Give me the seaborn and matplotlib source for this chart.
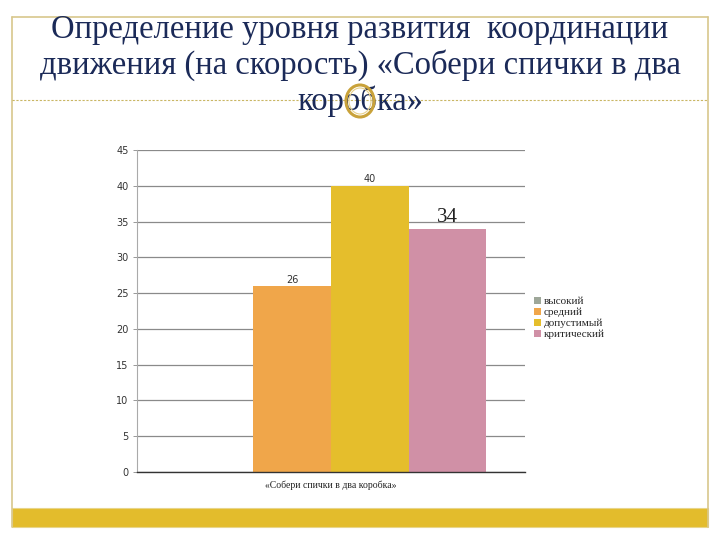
import matplotlib
matplotlib.use("Agg")
import matplotlib.pyplot as plt
import seaborn as sns
import pandas as pd
from matplotlib.patches import Rectangle, Ellipse, Patch

# ---- data ----
categories = ["«Собери спички в два коробка»"]
levels = ["высокий", "средний", "допустимый", "критический"]
values = [0, 26, 40, 34]
colors = ["#9ea799", "#f0a64a", "#e5be2c", "#d090a6"]
yticks = [0, 5, 10, 15, 20, 25, 30, 35, 40, 45]
title = "Определение уровня развития  координации\nдвижения (на скорость) «Собери спички в два\nкоробка»"

df = pd.DataFrame({"cat": categories * len(levels), "level": levels, "val": values})

sns.set_theme(style="white")
plt.rcParams['font.family'] = ['DejaVu Sans']

W, H = 720, 540
fig = plt.figure(figsize=(7.2, 5.4), dpi=100)
fig.patch.set_facecolor("white")

# slide overlay
bg = fig.add_axes([0, 0, 1, 1], zorder=0)
bg.set_xlim(0, W); bg.set_ylim(H, 0); bg.axis("off")
bc = "#d8c78c"
bg.plot([12, 12], [17, 527], color=bc, lw=1.2)
bg.plot([708, 708], [17, 527], color=bc, lw=1.2)
bg.plot([12, 708], [17, 17], color=bc, lw=1.2)
bg.plot([12, 708], [100, 100], color="#c9b664", lw=0.8, ls=(0, (2, 1.5)))
bg.add_patch(Rectangle((12, 508), 696, 19, facecolor="#e3bc2c", edgecolor="#e8d58a", lw=0.8))
bg.text(360, 66, title, ha="center", va="center", fontsize=23.5, color="#1b2a58",
        family="Liberation Serif", linespacing=1.18)
bg.add_patch(Ellipse((360, 101), 28, 32, fill=False, edgecolor="#c9a23a", lw=2.2, zorder=5))
bg.add_patch(Ellipse((360, 101), 22, 26, fill=False, edgecolor="#e6d08a", lw=0.8, zorder=5))

# chart
x0, x1, y0, y1 = 137, 525, 150, 472
ax = fig.add_axes([x0 / W, 1 - y1 / H, (x1 - x0) / W, (y1 - y0) / H], zorder=2)
ax.patch.set_alpha(0)
sns.barplot(data=df, x="cat", y="val", hue="level", hue_order=levels,
            palette=colors, width=0.8, ax=ax, edgecolor="none", saturation=1, legend=False)
ax.set_ylim(0, 45)
ax.set_yticks(yticks)
ax.set_yticklabels([str(t) for t in yticks], fontsize=7, color="#333333")
ax.tick_params(axis="y", length=3, width=0.6, color="#888888", pad=3, left=True)
ax.tick_params(axis="x", length=0, pad=6)
ax.set_xticks([0])
ax.set_xticklabels(categories, fontsize=7, family="Liberation Serif", color="#222222")
ax.set_xlabel(""); ax.set_ylabel("")
ax.grid(axis="y", color="#8a8a8a", lw=0.9)
ax.set_axisbelow(True)
for s in ["top", "right"]:
    ax.spines[s].set_visible(False)
ax.spines["left"].set_color("#aaaaaa"); ax.spines["left"].set_linewidth(0.8)
ax.spines["bottom"].set_color("#333333"); ax.spines["bottom"].set_linewidth(1.0)

# data labels
bars = [p for p in ax.patches if isinstance(p, Rectangle)]
for p, v, lv in zip(bars, values, levels):
    if v == 0:
        continue
    cx = p.get_x() + p.get_width() / 2
    if lv == "критический":
        ax.text(cx, v + 0.3, str(v), ha="center", va="bottom", fontsize=15,
                family="Liberation Serif", color="#222222")
    else:
        ax.text(cx, v + 0.2, str(v), ha="center", va="bottom", fontsize=7, color="#333333")

handles = [Patch(facecolor=c, edgecolor="none") for c in colors]
fig.legend(handles, levels, loc="upper left", bbox_to_anchor=(534 / W, 1 - 297 / H),
           frameon=False, prop={"family": "Liberation Serif", "size": 8},
           handlelength=0.6, handleheight=0.6, handletextpad=0.3, labelspacing=0.12,
           borderpad=0, borderaxespad=0)

fig.savefig("out.png", dpi=100)
